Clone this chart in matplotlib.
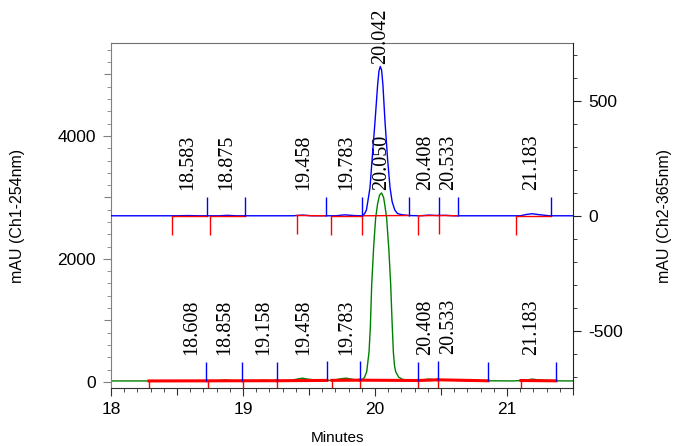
import numpy as np
import matplotlib.pyplot as plt
from matplotlib.ticker import MultipleLocator

plt.rcParams['font.family'] = ['Liberation Sans', 'DejaVu Sans']
plt.rcParams['font.serif'] = ['Liberation Serif', 'Times New Roman', 'DejaVu Serif']
plt.rcParams['axes.unicode_minus'] = False

# Ch2 (365 nm) trace, right axis, blue
ch2_time = [18.00, 18.50, 18.58, 18.66, 18.82, 18.88, 18.95, 19.38, 19.45, 19.52,
            19.70, 19.77, 19.84, 19.90, 19.92, 19.935, 19.945, 19.962, 19.98, 20.00,
            20.02, 20.03, 20.04, 20.05, 20.06, 20.076, 20.095, 20.114, 20.13, 20.15,
            20.17, 20.20, 20.26, 20.34, 20.41, 20.47, 20.53, 20.60, 21.10, 21.15,
            21.19, 21.24, 21.32, 21.50]
ch2_mau = [0, 0, 1, 0, 0, 2, 0, 0, 3, 0,
           0, 4, 1, 0, 8, 25, 60, 122, 260, 409,
           570, 630, 650, 635, 570, 409, 250, 122, 61, 25,
           10, 5, 1, 0, 3, 1, 2, 0, 0, 6,
           9, 5, 0, 0]

# Ch1 (254 nm) trace, left axis, green
ch1_time = [18.00, 18.30, 18.60, 18.80, 18.86, 18.93, 19.10, 19.16, 19.22, 19.35,
            19.41, 19.45, 19.49, 19.58, 19.68, 19.74, 19.78, 19.82, 19.87, 19.90,
            19.92, 19.937, 19.955, 19.965, 19.975, 19.99, 20.005, 20.02, 20.035, 20.05,
            20.065, 20.075, 20.088, 20.105, 20.119, 20.13, 20.139, 20.148, 20.157, 20.18,
            20.21, 20.26, 20.33, 20.37, 20.41, 20.45, 20.50, 20.54, 20.60, 20.70,
            21.05, 21.13, 21.19, 21.25, 21.35, 21.50]
ch1_mau = [15, 15, 15, 18, 30, 18, 18, 26, 18, 20,
           45, 60, 45, 22, 25, 50, 60, 45, 25, 30,
           70, 163, 488, 900, 1577, 2200, 2667, 2900, 3040, 3073,
           3000, 2870, 2667, 2150, 1577, 950, 488, 260, 163, 75,
           40, 25, 22, 35, 45, 35, 32, 35, 25, 20,
           15, 25, 45, 30, 17, 15]

# integrated peaks: retention time label, start, end
ch2_peaks = ['18.583', '18.875', '19.458', '19.783', '20.042', '20.408', '20.533', '21.183']
ch2_start = [18.462, 18.750, 19.409, 19.667, 19.900, 20.326, 20.485, 21.068]
ch2_end = [18.727, 19.015, 19.629, 19.900, 20.258, 20.485, 20.629, 21.333]

ch1_peaks = ['18.608', '18.858', '19.158', '19.458', '19.783', '20.050', '20.408', '20.533', '21.183']
ch1_start = [18.288, 18.735, 19.000, 19.258, 19.674, 19.886, 20.326, 20.477, 21.106]
ch1_end = [18.720, 18.992, 19.258, 19.636, 19.886, 20.326, 20.477, 20.856, 21.371]


def spread(xs, min_gap):
    # push neighbouring labels apart (pixel units)
    out = list(xs)
    for i in range(1, len(xs)):
        gap = out[i] - out[i - 1]
        if gap < min_gap:
            d = (min_gap - gap) / 2
            out[i - 1] -= d
            out[i] += d
    return [o - x for o, x in zip(out, xs)]


def draw_channel(ax, t, y, color, labels, starts, ends, base_lw):
    t = np.asarray(t)
    y = np.asarray(y)
    ax.plot(t, y, color=color, lw=1.0, zorder=2)
    lo, hi = ax.get_ylim()
    tick = 0.055 * (hi - lo)
    y0 = np.interp(starts, t, y)
    y1 = np.interp(ends, t, y)
    for a, b, ya, yb in zip(starts, ends, y0, y1):
        ax.plot([a, b], [ya, yb], color='red', lw=base_lw, zorder=3)
    ax.vlines(starts, y0 - tick, y0, color='red', lw=1.0, zorder=3)
    ax.vlines(ends, y1, y1 + tick, color='blue', lw=1.0, zorder=3)
    rts = [float(lab) for lab in labels]
    px = [ax.transData.transform((r, 0))[0] for r in rts]
    shifts = spread(px, 23)
    for lab, rt, s, dx in zip(labels, rts, y0, shifts):
        anchor = max(np.interp(rt, t, y), s + 1.2 * tick)
        ax.annotate(lab, (rt, anchor), xytext=(dx * 0.72, 2), textcoords='offset points',
                    rotation=90, ha='center', va='bottom', family='serif', fontsize=14.5,
                    annotation_clip=False, zorder=5)


fig = plt.figure(figsize=(6.75, 4.46), dpi=100)
ax1 = fig.add_axes([0.1644, 0.130, 0.6845, 0.7734])
ax2 = ax1.twinx()

ax1.set_xlim(18, 21.5)
ax1.set_ylim(-100, 5510)
ax2.set_ylim(-750, 752)

draw_channel(ax1, ch1_time, ch1_mau, 'green', ch1_peaks, ch1_start, ch1_end, 2.2)
draw_channel(ax2, ch2_time, ch2_mau, 'blue', ch2_peaks, ch2_start, ch2_end, 1.0)

# spines
ax1.spines['right'].set_visible(False)
ax1.spines['left'].set_color('#808080')
ax1.spines['top'].set_color('#707070')
ax1.spines['bottom'].set_color('#303030')
for s in ['left', 'top', 'bottom']:
    ax2.spines[s].set_visible(False)
ax2.spines['right'].set_color('#202020')

# ticks
ax1.xaxis.set_major_locator(MultipleLocator(1))
ax1.xaxis.set_minor_locator(MultipleLocator(0.1))
ax1.yaxis.set_major_locator(MultipleLocator(2000))
ax1.yaxis.set_minor_locator(MultipleLocator(200))
ax2.yaxis.set_major_locator(MultipleLocator(500))
ax2.yaxis.set_minor_locator(MultipleLocator(100))

ax1.tick_params(axis='x', which='major', length=6, pad=4, labelsize=12.5, color='#303030')
ax1.tick_params(axis='x', which='minor', length=3, color='#303030')
ax1.tick_params(axis='y', which='major', length=6, pad=5, labelsize=12.5, color='#808080')
ax1.tick_params(axis='y', which='minor', length=3, color='#808080')
ax2.tick_params(axis='y', which='major', length=6, pad=5, labelsize=12.5, color='#202020')
ax2.tick_params(axis='y', which='minor', length=3, color='#202020')

# half-step ticks
secx = ax1.secondary_xaxis('bottom')
secx.set_xticks([18.5, 19.5, 20.5, 21.5])
secx.tick_params(length=5, labelbottom=False, color='#303030')
secx.spines['bottom'].set_visible(False)
secy = ax1.secondary_yaxis('left')
secy.set_yticks([1000, 3000, 5000])
secy.tick_params(length=5, labelleft=False, color='#808080')
secy.spines['left'].set_visible(False)

ax1.set_xlabel('Minutes', fontsize=11)
ax1.xaxis.set_label_coords(0.49, -0.125)
ax1.set_ylabel('mAU (Ch1-254nm)', fontsize=11.5)
ax1.yaxis.set_label_coords(-0.186, 0.5)
ax2.set_ylabel('mAU (Ch2-365nm)', fontsize=11.5)
ax2.yaxis.set_label_coords(1.182, 0.5)

fig.savefig('out.png', dpi=100)
